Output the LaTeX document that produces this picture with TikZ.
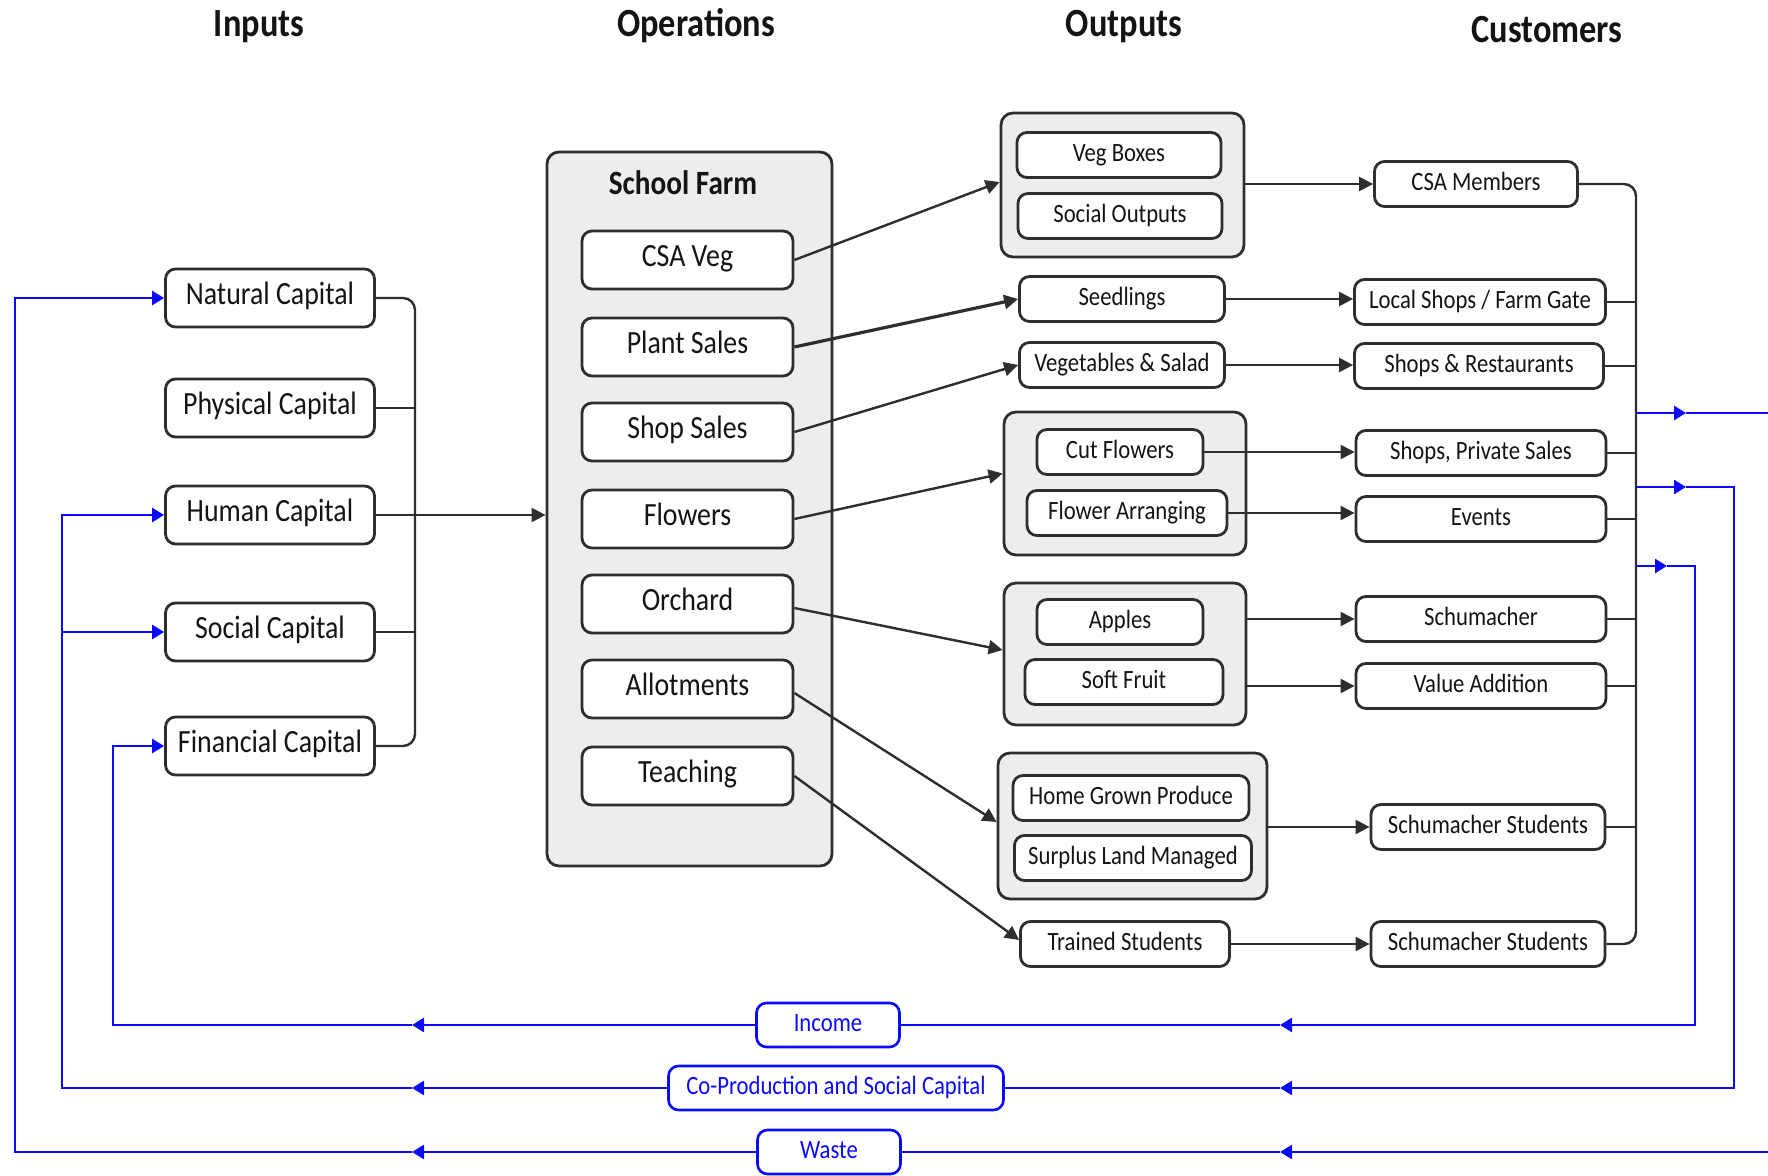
\documentclass[tikz,border=0pt]{standalone}
\usepackage{fontspec}
\setmainfont{Carlito}[FakeStretch=0.86]
\usetikzlibrary{arrows.meta}
\definecolor{ln}{HTML}{2E2E2E}
\definecolor{grp}{HTML}{EDEDED}
\definecolor{txt}{HTML}{141414}
\definecolor{bblue}{HTML}{0A0AFF}
\begin{document}
\begin{tikzpicture}[x=0.5pt,y=-0.5pt,
 box/.style={draw=ln, line width=1.4pt, rounded corners=5pt, fill=white, text=txt, inner sep=0pt, align=center, text height=0.78em, text depth=0.1em},
 bigbox/.style={box, font=\fontsize{16.2}{19}\selectfont, minimum height=29pt},
 smallbox/.style={box, font=\fontsize{13.2}{16}\selectfont, minimum height=22.5pt},
 grpbox/.style={draw=ln, line width=1.4pt, rounded corners=6pt, fill=grp, inner sep=0pt},
 conn/.style={draw=ln, line width=1.2pt},
 arrowk/.style={-{Triangle[length=7pt,width=7pt]}},
 bline/.style={draw=bblue, line width=1.3pt},
 barrowk/.style={-{Triangle[length=6pt,width=7pt]}},
 blab/.style={draw=bblue, line width=1.3pt, rounded corners=5pt, fill=white, text=bblue, font=\fontsize{13.2}{16}\selectfont, minimum height=22pt, inner sep=0pt, text height=0.78em, text depth=0.1em},
 hdr/.style={font=\fontsize{20}{24}\selectfont\bfseries, text=txt, anchor=base, inner sep=0pt}
]
\useasboundingbox (0,0) rectangle (1768,1176);

% headers
\node[hdr] (hIn) at (259,37) {Inputs};
\node[hdr] (hOp) at (696,37) {Operations};
\node[hdr] (hOut) at (1124,37) {Outputs};
\node[hdr] (hCu) at (1547,43) {Customers};

% inputs
\node[bigbox, minimum width=104.5pt] (natural) at (270,298) {Natural Capital};
\node[bigbox, minimum width=104.5pt] (physical) at (270,408) {Physical Capital};
\node[bigbox, minimum width=104.5pt] (human) at (270,515) {Human Capital};
\node[bigbox, minimum width=104.5pt] (social) at (270,632) {Social Capital};
\node[bigbox, minimum width=104.5pt] (financial) at (270,746) {Financial Capital};

% operations
\node[grpbox, minimum width=142.5pt, minimum height=357pt] (farm) at (689.5,509) {};
\node[font=\fontsize{17}{20}\selectfont\bfseries, text=txt, text height=0.78em, text depth=0.1em, inner sep=0pt] (sf) at (683,188) {School Farm};
\node[bigbox, minimum width=105.5pt] (csaveg) at (687.5,260) {CSA Veg};
\node[bigbox, minimum width=105.5pt] (plant) at (687.5,347) {Plant Sales};
\node[bigbox, minimum width=105.5pt] (shop) at (687.5,432) {Shop Sales};
\node[bigbox, minimum width=105.5pt] (flowers) at (687.5,519) {Flowers};
\node[bigbox, minimum width=105.5pt] (orchard) at (687.5,604) {Orchard};
\node[bigbox, minimum width=105.5pt] (allot) at (687.5,689) {Allotments};
\node[bigbox, minimum width=105.5pt] (teach) at (687.5,776) {Teaching};

% outputs
\node[grpbox, minimum width=121.5pt, minimum height=72pt] (g1) at (1122.5,185) {};
\node[smallbox, minimum width=102pt] (vegbox) at (1119,155) {Veg Boxes};
\node[smallbox, minimum width=102pt] (socout) at (1120,216) {Social Outputs};
\node[smallbox, minimum width=102.5pt] (seed) at (1122,299) {Seedlings};
\node[smallbox, minimum width=102.5pt] (vegsal) at (1122,365) {Vegetables \& Salad};
\node[grpbox, minimum width=121pt, minimum height=71.5pt] (g2) at (1125,483.5) {};
\node[smallbox, minimum width=83pt] (cut) at (1120,452) {Cut Flowers};
\node[smallbox, minimum width=100pt] (arrg) at (1127,513) {Flower Arranging};
\node[grpbox, minimum width=121pt, minimum height=71pt] (g3) at (1125,654) {};
\node[smallbox, minimum width=83pt] (apples) at (1120,622) {Apples};
\node[smallbox, minimum width=99pt] (soft) at (1124,682) {Soft Fruit};
\node[grpbox, minimum width=134.5pt, minimum height=73pt] (g4) at (1132.5,826) {};
\node[smallbox, minimum width=118pt] (hgp) at (1131,798) {Home Grown Produce};
\node[smallbox, minimum width=118.5pt] (slm) at (1133,858) {Surplus Land Managed};
\node[smallbox, minimum width=104.5pt] (trained) at (1125,944) {Trained Students};

% customers
\node[smallbox, minimum width=101.5pt] (csa) at (1476,184) {CSA Members};
\node[smallbox, minimum width=125.5pt] (local) at (1480,302) {Local Shops / Farm Gate};
\node[smallbox, minimum width=124.5pt] (shopsr) at (1479,366) {Shops \& Restaurants};
\node[smallbox, minimum width=125pt] (sps) at (1481,453) {Shops, Private Sales};
\node[smallbox, minimum width=125pt] (events) at (1481,519) {Events};
\node[smallbox, minimum width=125pt] (schum) at (1481,619) {Schumacher};
\node[smallbox, minimum width=125pt] (value) at (1481,686) {Value Addition};
\node[smallbox, minimum width=117pt] (ss1) at (1488,827) {Schumacher Students};
\node[smallbox, minimum width=117pt] (ss2) at (1488,944) {Schumacher Students};

% blue labels
\node[blab, minimum width=71.5pt] (income) at (828,1025) {Income};
\node[blab, minimum width=167.5pt] (coprod) at (836,1088) {Co-Production and Social Capital};
\node[blab, minimum width=71.5pt] (waste) at (829,1152) {Waste};

% input bus
\coordinate (ibus) at (415,0);
\draw[conn, rounded corners=6pt] (natural.east) -- (natural.east -| ibus) -- (financial.east -| ibus) -- (financial.east);
\draw[conn] (physical.east) -- (physical.east -| ibus);
\draw[conn] (social.east) -- (social.east -| ibus);
\draw[conn, arrowk] (human.east) -- (human.east -| farm.west);

% operations -> outputs
\draw[conn, arrowk] (csaveg.east) -- ([yshift=1.5pt]g1.west);
\draw[conn, arrowk, line width=1.6pt] (plant.east) -- (seed.west);
\draw[conn, arrowk] (shop.east) -- (vegsal.west);
\draw[conn, arrowk] (flowers.east) -- ([yshift=5pt]g2.west);
\draw[conn, arrowk] ([yshift=-2pt]orchard.east) -- ([yshift=2pt]g3.west);
\draw[conn, arrowk] ([yshift=-2pt]allot.east) -- ([yshift=2pt]g4.west);
\draw[conn, arrowk] (teach.east) -- ([yshift=2pt]trained.west);

% outputs -> customers
\draw[conn, arrowk] (g1.east |- csa.west) -- (csa.west);
\draw[conn, arrowk] (seed.east) -- (seed.east -| local.west);
\draw[conn, arrowk] (vegsal.east) -- (vegsal.east -| shopsr.west);
\draw[conn, arrowk] (cut.east) -- (cut.east -| sps.west);
\draw[conn, arrowk] (arrg.east) -- (arrg.east -| events.west);
\draw[conn, arrowk] (g3.east |- schum.west) -- (schum.west);
\draw[conn, arrowk] (g3.east |- value.west) -- (value.west);
\draw[conn, arrowk] (g4.east |- ss1.west) -- (ss1.west);
\draw[conn, arrowk] (trained.east) -- (trained.east -| ss2.west);

% customer bus
\coordinate (cbus) at (1636,0);
\draw[conn, rounded corners=6pt] (csa.east) -- (csa.east -| cbus) -- (ss2.east -| cbus) -- (ss2.east);
\foreach \n in {local,shopsr,sps,events,schum,value,ss1}
  \draw[conn] (\n.east) -- (\n.east -| cbus);

% blue feedback lines
\coordinate (bA) at (1636,413);
\coordinate (aA) at (1686,413);
\coordinate (eA) at (1768,413);
\draw[bline, barrowk] (bA) -- (aA);
\draw[bline] (aA) -- (eA);

\coordinate (bB) at (1636,487);
\coordinate (aB) at (1686,487);
\coordinate (cB1) at (1734,487);
\coordinate (cB2) at (1734,1088);
\coordinate (aB2) at (1280,1088);
\coordinate (aB3) at (412,1088);
\coordinate (cB3) at (62,1088);
\draw[bline, barrowk] (bB) -- (aB);
\draw[bline, barrowk] (aB) -- (cB1) -- (cB2) -- (aB2);
\draw[bline] (aB2) -- (coprod.east);
\draw[bline, barrowk] (coprod.west) -- (aB3);
\draw[bline, barrowk] (aB3) -- (cB3) -- (cB3 |- human.west) -- (human.west);
\draw[bline, barrowk] (cB3 |- social.west) -- (social.west);

\coordinate (bC) at (1636,566);
\coordinate (aC) at (1667,566);
\coordinate (cC1) at (1695,566);
\coordinate (cC2) at (1695,1025);
\coordinate (aC2) at (1280,1025);
\coordinate (aC3) at (412,1025);
\coordinate (cC3) at (113,1025);
\draw[bline, barrowk] (bC) -- (aC);
\draw[bline, barrowk] (aC) -- (cC1) -- (cC2) -- (aC2);
\draw[bline] (aC2) -- (income.east);
\draw[bline, barrowk] (income.west) -- (aC3);
\draw[bline, barrowk] (aC3) -- (cC3) -- (cC3 |- financial.west) -- (financial.west);

\coordinate (eD) at (1768,1152);
\coordinate (aD2) at (1280,1152);
\coordinate (aD3) at (412,1152);
\coordinate (cD3) at (15,1152);
\draw[bline, barrowk] (eD) -- (aD2);
\draw[bline] (aD2) -- (waste.east);
\draw[bline, barrowk] (waste.west) -- (aD3);
\draw[bline, barrowk] (aD3) -- (cD3) -- (cD3 |- natural.west) -- (natural.west);
\end{tikzpicture}
\end{document}
